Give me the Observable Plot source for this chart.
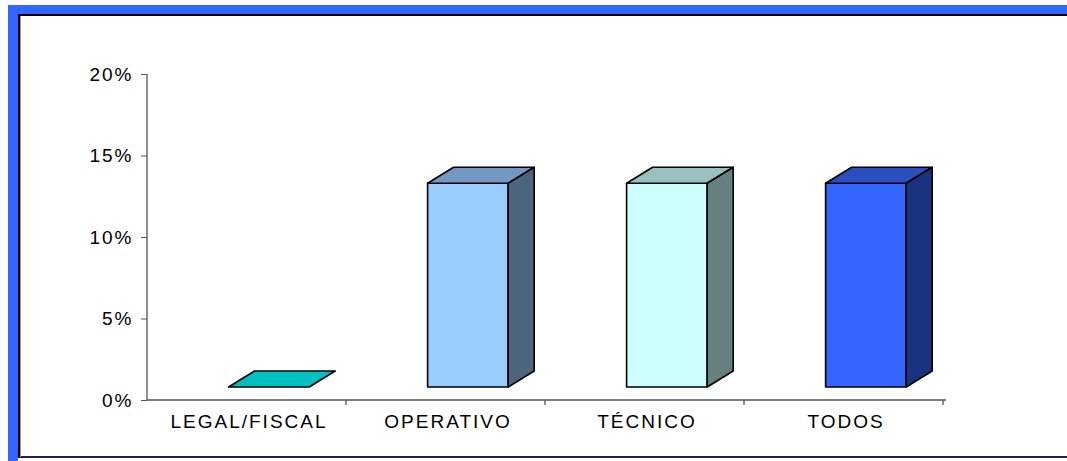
<!DOCTYPE html>
<html>
<head>
<meta charset="utf-8">
<script src="https://cdn.jsdelivr.net/npm/d3@7"></script>
<script src="https://cdn.jsdelivr.net/npm/@observablehq/plot@0.6"></script>
<style>
  html, body { margin: 0; padding: 0; background: #fff; }
  #wrap { position: relative; width: 1067px; height: 461px; overflow: hidden; background: #fff; }
  .blue-top { position: absolute; left: 8px; top: 5px; width: 1059px; height: 9px; background: #3366FF; }
  .blue-left { position: absolute; left: 8px; top: 5px; width: 10px; height: 456px; background: #3366FF; }
  .border { position: absolute; left: 18px; top: 14px; width: 1100px; height: 444px;
            border-left: 2px solid #000; border-top: 2px solid #000; border-bottom: 2px solid #1a2345; box-sizing: border-box; }
  .shadow { position: absolute; left: 20px; top: 16px; width: 1px; height: 441px; background: #999; }
  #chart { position: absolute; left: 0; top: 0; }
  #chart text { letter-spacing: 2px; }
</style>
</head>
<body>
<div id="wrap">
  <div class="blue-top"></div>
  <div class="blue-left"></div>
  <div class="border"></div>
  <div class="shadow"></div>
  <div id="chart"></div>
</div>
<script>
const categories = ["LEGAL/FISCAL", "OPERATIVO", "TÉCNICO", "TODOS"];
const values = [0, 0.125, 0.125, 0.125];
const yTicks = [0, 0.05, 0.10, 0.15, 0.20];
const frontColors = ["#00FFFF", "#99CCFF", "#CCFFFF", "#3366FF"];
const topColors = ["#00C0C0", "#7399C0", "#99C0C0", "#2A4DC0"];
const sideColors = ["#008080", "#4C6680", "#668080", "#1A3380"];

const data = categories.map((c, i) => ({category: c, value: values[i], front: frontColors[i], top: topColors[i], side: sideColors[i]}));

const marginLeft = 147, marginRight = 121, marginTop = 74, marginBottom = 61;

function bars3d(index, scales, vals, dimensions) {
  const g = d3.create("svg:g");
  const x = scales.x, y = scales.y;
  const innerW = dimensions.width - dimensions.marginLeft - dimensions.marginRight;
  const bw = x.bandwidth ? x.bandwidth() : innerW / categories.length;
  const dx = 26, dy = -16, lift = 13;
  const y0 = y(0);
  // axis lines
  g.append("line").attr("x1", dimensions.marginLeft).attr("x2", dimensions.marginLeft)
    .attr("y1", y(yTicks[yTicks.length - 1])).attr("y2", y0).attr("stroke", "#555").attr("stroke-width", 1.3);
  g.append("line").attr("x1", dimensions.marginLeft).attr("x2", dimensions.width - dimensions.marginRight)
    .attr("y1", y0).attr("y2", y0).attr("stroke", "#555").attr("stroke-width", 1.3);
  // boundary ticks on x axis
  for (let i = 1; i <= categories.length; i++) {
    const xb = dimensions.marginLeft + i * bw;
    g.append("line").attr("x1", xb).attr("x2", xb).attr("y1", y0).attr("y2", y0 + 5)
      .attr("stroke", "#555").attr("stroke-width", 1.3);
  }
  for (const d of data) {
    const x0 = x(d.category);
    const xl = x0 + 0.4 * bw, xr = x0 + 0.805 * bw;
    const yb = y(0) - lift, yt = y(d.value) - lift;
    const poly = (pts, fill) => g.append("polygon")
      .attr("points", pts.map(p => p.join(",")).join(" "))
      .attr("fill", fill).attr("stroke", "#000").attr("stroke-width", 1.6).attr("stroke-linejoin", "round");
    if (yb - yt > 0.5) poly([[xl, yb], [xr, yb], [xr, yt], [xl, yt]], d.front);
    poly([[xl, yt], [xr, yt], [xr + dx, yt + dy], [xl + dx, yt + dy]], d.top);
    if (yb - yt > 0.5) poly([[xr, yb], [xr + dx, yb + dy], [xr + dx, yt + dy], [xr, yt]], d.side);
  }
  return g.node();
}

const chart = Plot.plot({
  width: 1067,
  height: 461,
  marginLeft, marginRight, marginTop, marginBottom,
  style: {fontFamily: "'Liberation Sans', Arial, sans-serif", fontSize: "19px", color: "#000", background: "transparent", overflow: "visible"},
  x: {type: "band", domain: categories, padding: 0},
  y: {domain: [0, 0.2]},
  marks: [
    Plot.axisY({ticks: yTicks, tickFormat: d => Math.round(d * 100) + "%", tickSize: 6, tickPadding: 8, stroke: "#555", fill: "#000", label: null, fontSize: 19}),
    Plot.axisX({tickSize: 0, tickPadding: 14, label: null, fill: "#000", fontSize: 19}),
    bars3d
  ]
});
document.getElementById("chart").appendChild(chart);
</script>
</body>
</html>
